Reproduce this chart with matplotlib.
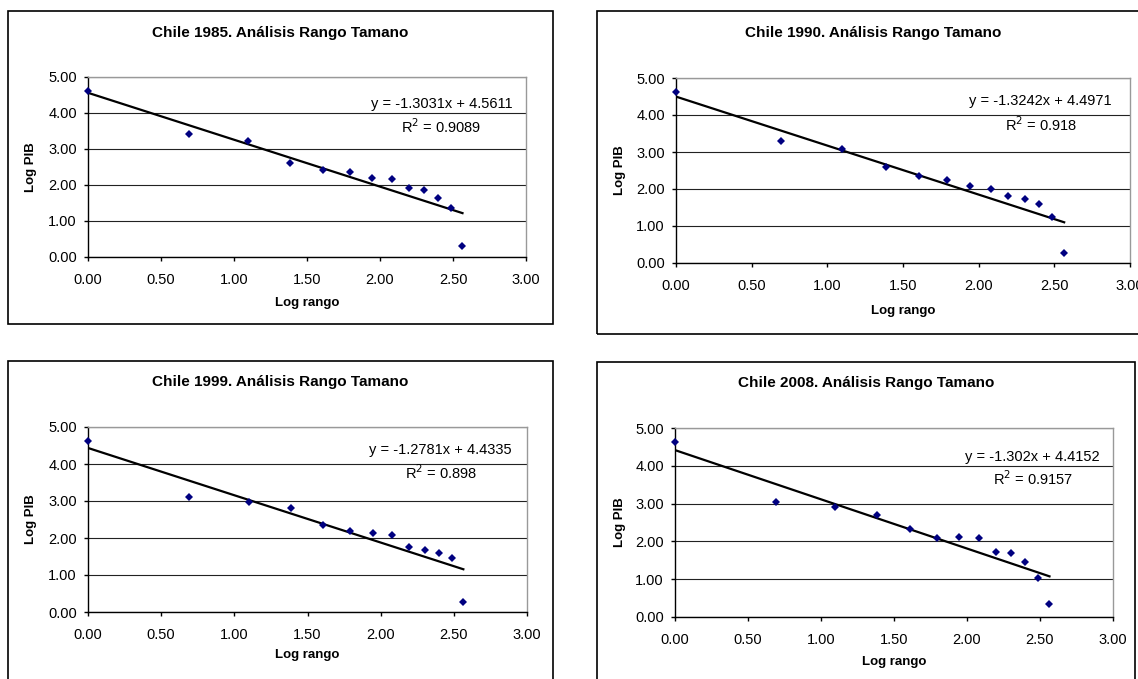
import matplotlib
matplotlib.use("Agg")
import matplotlib.pyplot as plt
from matplotlib.patches import Rectangle

plt.rcParams['font.family'] = ['Liberation Sans', 'DejaVu Sans']

W, H = 1138, 679

# ---- data ----
titles = ["Chile 1985. Análisis Rango Tamano", "Chile 1990. Análisis Rango Tamano",
          "Chile 1999. Análisis Rango Tamano", "Chile 2008. Análisis Rango Tamano"]
log_rango = [0.000, 0.693, 1.099, 1.386, 1.609, 1.792, 1.946, 2.079, 2.197, 2.303, 2.398, 2.485, 2.565]
log_pib_1985 = [4.62, 3.42, 3.22, 2.62, 2.42, 2.36, 2.19, 2.16, 1.93, 1.87, 1.64, 1.35, 0.31]
log_pib_1990 = [4.62, 3.29, 3.09, 2.59, 2.35, 2.24, 2.08, 1.99, 1.81, 1.73, 1.59, 1.25, 0.28]
log_pib_1999 = [4.63, 3.10, 2.98, 2.82, 2.34, 2.19, 2.13, 2.07, 1.77, 1.68, 1.60, 1.46, 0.26]
log_pib_2008 = [4.63, 3.05, 2.91, 2.70, 2.32, 2.10, 2.11, 2.08, 1.72, 1.69, 1.45, 1.04, 0.35]
slopes = [-1.3031, -1.3242, -1.2781, -1.302]
intercepts = [4.5611, 4.4971, 4.4335, 4.4152]
r2_labels = ["0.9089", "0.918", "0.898", "0.9157"]
slope_labels = ["-1.3031", "-1.3242", "-1.2781", "-1.302"]
intercept_labels = ["4.5611", "4.4971", "4.4335", "4.4152"]
x_ticks = [0.0, 0.5, 1.0, 1.5, 2.0, 2.5, 3.0]
y_ticks = [0.0, 1.0, 2.0, 3.0, 4.0, 5.0]
series = [log_pib_1985, log_pib_1990, log_pib_1999, log_pib_2008]

# ---- layout (pixels) ----
frames = [(8, 11, 553, 324), (597, 11, 1150, 334), (8, 361, 553, 690), (597, 362, 1135, 690)]
plots = [(88, 77, 526, 257), (676, 78, 1130, 263), (88, 427, 527, 612), (675, 428, 1113, 617)]
title_y = [33, 33, 382, 383]
xlabel_top = [40, 42, 37, 39]
eq_pos = [(2.42, 4.26, 3.63), (2.41, 4.37, 3.74), (2.41, 4.37, 3.77), (2.45, 4.23, 3.65)]

fig = plt.figure(figsize=(W / 100, H / 100), dpi=100)
fig.patch.set_facecolor('white')


def fx(x):
    return x / W


def fy(y):
    return 1 - y / H


for i in range(4):
    l, t, r, b = frames[i]
    fig.patches.append(Rectangle((fx(l), fy(b)), fx(r - l), (b - t) / H, transform=fig.transFigure,
                                 fill=False, edgecolor='black', lw=1.2, zorder=0))
    fig.text(fx((l + r) / 2), fy(title_y[i]), titles[i], ha='center', va='center',
             fontsize=11, fontweight='bold')

    pl, pt, pr, pb = plots[i]
    ax = fig.add_axes([fx(pl), fy(pb), fx(pr - pl), (pb - pt) / H])
    ax.set_xlim(0, 3)
    ax.set_ylim(0, 5)
    ax.set_xticks(x_ticks)
    ax.set_yticks(y_ticks)
    ax.set_xticklabels([f"{v:.2f}" for v in x_ticks])
    ax.set_yticklabels([f"{v:.2f}" for v in y_ticks])
    ax.tick_params(direction='out', length=3, width=1, colors='black', labelsize=10.5)
    ax.tick_params(axis='x', pad=8.5)
    ax.tick_params(axis='y', pad=5)
    for s in ['left', 'bottom']:
        ax.spines[s].set_color('black')
        ax.spines[s].set_linewidth(1)
    for s in ['top', 'right']:
        ax.spines[s].set_color('#999999')
        ax.spines[s].set_linewidth(1)
    ax.yaxis.grid(True, color='#222222', lw=0.8)
    ax.set_axisbelow(True)

    ax.plot(log_rango, series[i], linestyle='none', marker='D', markersize=4.5,
            color='#000080', markeredgewidth=0, zorder=4, clip_on=False)
    x0, x1 = log_rango[0], log_rango[-1]
    ax.plot([x0, x1], [intercepts[i] + slopes[i] * x0, intercepts[i] + slopes[i] * x1],
            color='black', lw=1.6, zorder=3)

    ex, ey1, ey2 = eq_pos[i]
    ax.text(ex, ey1, f"y = {slope_labels[i]}x + {intercept_labels[i]}", ha='center', va='center',
            fontsize=10.5, zorder=5)
    ax.text(ex, ey2, f"R$^2$ = {r2_labels[i]}", ha='center', va='center', fontsize=10.5, zorder=5)

    ax.set_xlabel("Log rango", fontsize=9.5, fontweight='bold')
    ax.set_ylabel("Log PIB", fontsize=9.5, fontweight='bold')
    ax.xaxis.set_label_coords(0.5, -(xlabel_top[i] / (pb - pt)))
    ax.yaxis.set_label_coords(-((pl - frames[i][0] - 29) / (pr - pl)), 0.5)

fig.savefig("out.png", dpi=100, facecolor='white')
